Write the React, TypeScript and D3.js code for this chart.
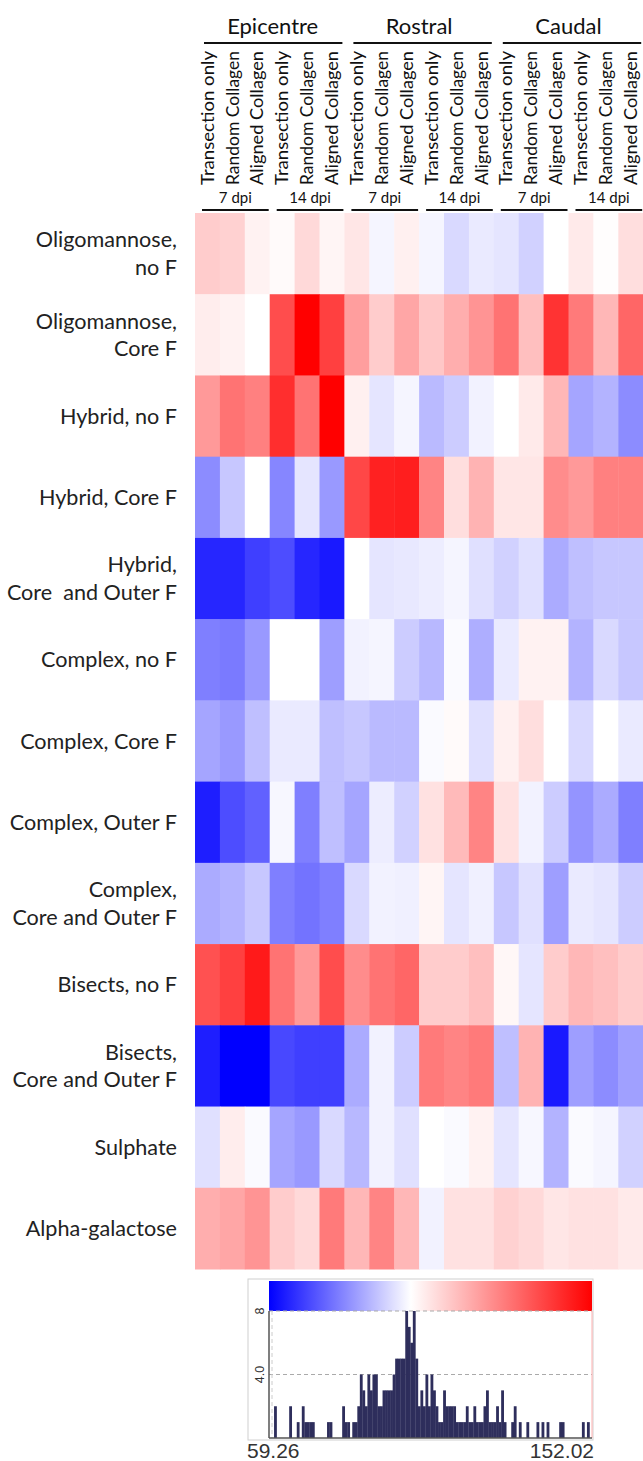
import React from 'react';
import * as d3 from 'd3';

const regions = ["Epicentre", "Rostral", "Caudal"];
const timepoints = ["7 dpi", "14 dpi"];
const conditions = ["Transection only", "Random Collagen", "Aligned Collagen"];

const rowLabels: string[][] = [
  ["Oligomannose,", "no F"],
  ["Oligomannose,", "Core F"],
  ["Hybrid, no F"],
  ["Hybrid, Core F"],
  ["Hybrid,", "Core  and Outer F"],
  ["Complex, no F"],
  ["Complex, Core F"],
  ["Complex, Outer F"],
  ["Complex,", "Core and Outer F"],
  ["Bisects, no F"],
  ["Bisects,", "Core and Outer F"],
  ["Sulphate"],
  ["Alpha-galactose"],
];

// heatmap values (% of control), columns: region x timepoint x condition
const oligoNoF = [110.4, 109.4, 102.6, 101.0, 107.8, 102.1, 105.2, 98.4, 103.1, 98.4, 93.9, 96.7, 95.9, 92.7, 100.0, 104.2, 100.5, 106.8];
const oligoCoreF = [103.6, 102.6, 100.0, 136.4, 152.0, 139.0, 119.8, 110.4, 118.2, 111.4, 116.6, 121.8, 128.6, 113.0, 141.6, 127.1, 114.6, 131.2];
const hybridNoF = [120.8, 128.6, 126.0, 142.7, 128.6, 152.0, 103.1, 95.9, 98.4, 89.0, 91.9, 98.0, 100.0, 104.2, 114.6, 85.7, 87.8, 81.7];
const hybridCoreF = [81.7, 91.0, 100.0, 80.7, 95.9, 83.7, 137.5, 145.3, 145.8, 125.0, 106.8, 115.6, 105.2, 105.2, 123.4, 120.8, 126.0, 126.0];
const hybridCoreOuterF = [65.4, 65.4, 69.4, 71.5, 65.4, 63.3, 100.0, 95.9, 96.3, 97.1, 98.4, 95.1, 92.7, 95.1, 86.6, 89.8, 91.0, 91.0];
const complexNoF = [79.6, 78.8, 83.7, 100.0, 100.0, 84.5, 98.0, 98.4, 91.9, 88.6, 99.2, 87.0, 96.7, 102.6, 102.6, 87.8, 93.9, 91.0];
const complexCoreF = [85.7, 83.7, 89.8, 96.7, 96.7, 89.8, 91.0, 89.0, 89.0, 99.2, 101.0, 95.1, 103.1, 106.8, 100.0, 93.9, 100.0, 96.7];
const complexOuterF = [64.1, 71.5, 74.7, 98.8, 79.6, 89.8, 85.7, 97.1, 92.7, 106.2, 114.0, 125.0, 106.2, 98.0, 91.9, 82.9, 86.6, 79.6];
const complexCoreOuterF = [86.6, 87.8, 91.0, 79.6, 77.6, 79.6, 93.9, 98.0, 97.6, 102.1, 95.9, 97.6, 91.0, 95.1, 84.5, 96.7, 95.9, 91.9];
const bisectsNoF = [135.4, 139.0, 146.8, 128.6, 120.8, 136.4, 123.4, 128.6, 131.2, 110.4, 110.4, 113.0, 101.6, 95.9, 110.4, 114.6, 113.0, 110.4];
const bisectsCoreOuterF = [64.1, 59.3, 59.3, 70.7, 69.4, 69.4, 86.6, 98.0, 91.9, 127.1, 125.0, 127.1, 89.8, 115.6, 63.3, 84.5, 81.7, 84.9];
const sulphate = [95.1, 103.6, 99.2, 85.7, 83.7, 93.9, 88.6, 98.0, 95.1, 100.0, 99.2, 102.6, 95.9, 98.8, 87.8, 99.2, 98.4, 92.7];
const alphaGal = [116.6, 118.2, 121.8, 110.4, 107.8, 127.1, 114.6, 125.0, 114.6, 98.0, 106.2, 106.2, 109.4, 107.8, 105.2, 106.2, 106.2, 104.2];

const matrix = [oligoNoF, oligoCoreF, hybridNoF, hybridCoreF, hybridCoreOuterF, complexNoF, complexCoreF,
  complexOuterF, complexCoreOuterF, bisectsNoF, bisectsCoreOuterF, sulphate, alphaGal];

const scaleMin = 59.26;
const scaleMid = 100;
const scaleMax = 152.02;
const histTicks = [4, 8];
const histTickLabels = ["4.0", "8"];

// histogram counts (equal-width bins between scaleMin and scaleMax)
const histCounts = [
  0, 0, 2, 0, 0, 0, 0, 0, 2, 0, 0, 1, 0, 2, 1, 1,
  1, 1, 0, 0, 0, 0, 0, 1, 1, 0, 0, 0, 0, 2, 1, 1,
  0, 1, 1, 2, 4, 3, 2, 4, 3, 4, 4, 2, 2, 3, 3, 3,
  3, 4, 5, 5, 5, 5, 8, 7, 6, 8, 5, 2, 3, 2, 4, 2,
  4, 3, 2, 1, 1, 3, 2, 2, 2, 2, 1, 1, 1, 1, 2, 1,
  1, 2, 1, 1, 1, 2, 3, 1, 1, 1, 2, 1, 3, 1, 0, 0,
  1, 2, 0, 1, 0, 0, 1, 0, 0, 0, 1, 0, 1, 0, 1, 0,
  0, 0, 0, 1, 1, 0, 0, 0, 0, 0, 0, 0, 1, 0, 1, 0,
];

const LABEL_FONT = "Lato, 'Open Sans', sans-serif";
const NUM_FONT = "'Liberation Sans', Arial, sans-serif";

export default function App() {
  const W = 643, H = 1461;
  const nCols = regions.length * timepoints.length * conditions.length;
  const x = d3.scaleBand<number>().domain(d3.range(nCols)).range([195, 643.2]);
  const y = d3.scaleBand<number>().domain(d3.range(matrix.length)).range([213, 1269]);
  const color = d3.scaleLinear<string>().domain([scaleMin, scaleMid, scaleMax])
    .range(["#0000ff", "#ffffff", "#ff0000"]).clamp(true);
  const cw = x.bandwidth();
  const rh = y.bandwidth();

  // histogram scales
  const hx = d3.scaleLinear().domain([scaleMin, scaleMax]).range([269, 592]);
  const hy = d3.scaleLinear().domain([0, 8]).range([1438, 1311]);
  const binW = (scaleMax - scaleMin) / histCounts.length;
  const midFrac = (scaleMid - scaleMin) / (scaleMax - scaleMin);

  const regionSpan = conditions.length * timepoints.length;

  return (
    <svg width={W} height={H} style={{ position: 'absolute', left: 0, top: 0, background: '#fff' }}>
      <defs>
        <linearGradient id="cbar" x1="0" x2="1" y1="0" y2="0">
          <stop offset="0" stopColor="#0000ff" />
          <stop offset={midFrac} stopColor="#ffffff" />
          <stop offset="1" stopColor="#ff0000" />
        </linearGradient>
      </defs>

      {/* Region headers */}
      {regions.map((r, i) => {
        const x0 = x(i * regionSpan)!;
        const x1 = x(i * regionSpan + regionSpan - 1)! + cw;
        return (
          <g key={r}>
            <text x={(x0 + x1) / 2 + (i === 0 ? 3 : 0)} y={34} textAnchor="middle" fontFamily={LABEL_FONT}
              fontSize={22} fill="#111">{r}</text>
            <line x1={x0 + 9} x2={x1 - 2} y1={43} y2={43} stroke="#111" strokeWidth={2} />
          </g>
        );
      })}

      {/* Column labels */}
      {d3.range(nCols).map((c) => {
        const cond = conditions[c % conditions.length];
        const cx = x(c)! + cw / 2;
        return (
          <text key={c} transform={`translate(${cx},185) rotate(-90)`} dy="0.35em" textAnchor="start"
            fontFamily={LABEL_FONT} fontSize={17.8} fill="#111" textLength={134}
            lengthAdjust="spacingAndGlyphs">{cond}</text>
        );
      })}

      {/* Timepoint labels */}
      {d3.range(regions.length * timepoints.length).map((g) => {
        const x0 = x(g * conditions.length)!;
        const x1 = x(g * conditions.length + conditions.length - 1)! + cw;
        return (
          <g key={g}>
            <text x={(x0 + x1) / 2 + 3} y={203} textAnchor="middle" fontFamily={LABEL_FONT} fontSize={15}
              fill="#111">{timepoints[g % timepoints.length]}</text>
            <line x1={x0 + 7} x2={x1 - 1} y1={210} y2={210} stroke="#111" strokeWidth={2} />
          </g>
        );
      })}

      {/* Heatmap cells */}
      {matrix.map((row, ri) =>
        row.map((v, ci) => (
          <rect key={`${ri}-${ci}`} x={x(ci)} y={y(ri)} width={cw + 0.5} height={rh + 0.5} fill={color(v)} />
        ))
      )}

      {/* Row labels */}
      {rowLabels.map((lines, ri) => {
        const cy = y(ri)! + rh / 2;
        const lh = 27.5;
        return (
          <text key={ri} textAnchor="end" fontFamily={LABEL_FONT} fontSize={21.6} fill="#222"
            style={{ whiteSpace: 'pre' }}>
            {lines.map((l, li) => (
              <tspan key={li} x={177} y={cy + (li - (lines.length - 1) / 2) * lh} dy="0.35em">{l}</tspan>
            ))}
          </text>
        );
      })}

      {/* Histogram legend */}
      <rect x={248} y={1279} width={345} height={161} fill="#fff" stroke="#d0d0d0" strokeWidth={1} />
      <rect x={hx(scaleMin)} y={1281} width={hx(scaleMax) - hx(scaleMin)} height={hy(8) - 1281} fill="url(#cbar)" />
      {histTicks.map((t) => (
        <line key={t} x1={hx(scaleMin)} x2={hx(scaleMax)} y1={hy(t)} y2={hy(t)} stroke="#aaa"
          strokeWidth={1.2} strokeDasharray="4,3" />
      ))}
      <line x1={hx(scaleMin) + 3} x2={hx(scaleMin) + 3} y1={hy(8)} y2={hy(0)} stroke="#ccc" strokeDasharray="4,3" />
      <line x1={hx(scaleMax)} x2={hx(scaleMax)} y1={hy(8)} y2={hy(0)} stroke="#ffb0b0" strokeWidth={1} />
      {histCounts.map((c, i) => c > 0 ? (
        <rect key={i} x={hx(scaleMin + i * binW)} y={hy(c)} width={hx(scaleMin + (i + 1) * binW) - hx(scaleMin + i * binW) + 0.3}
          height={hy(0) - hy(c)} fill="#2e2e5c" />
      ) : null)}
      <line x1={hx(scaleMin)} x2={hx(scaleMin)} y1={hy(8)} y2={hy(0)} stroke="#555" strokeWidth={1.5} />
      <line x1={hx(scaleMin)} x2={hx(scaleMax)} y1={hy(0)} y2={hy(0)} stroke="#555" strokeWidth={1.5} />
      {histTicks.map((t, i) => (
        <text key={t} transform={`translate(${hx(scaleMin) - 5},${hy(t)}) rotate(-90)`} textAnchor="middle"
          fontFamily={NUM_FONT} fontSize={12.5} fill="#333">{histTickLabels[i]}</text>
      ))}
      <text x={247} y={1458} fontFamily={NUM_FONT} fontSize={21} fill="#333">{scaleMin.toFixed(2)}</text>
      <text x={594} y={1458} textAnchor="end" fontFamily={NUM_FONT} fontSize={21} fill="#333">{scaleMax.toFixed(2)}</text>
    </svg>
  );
}
